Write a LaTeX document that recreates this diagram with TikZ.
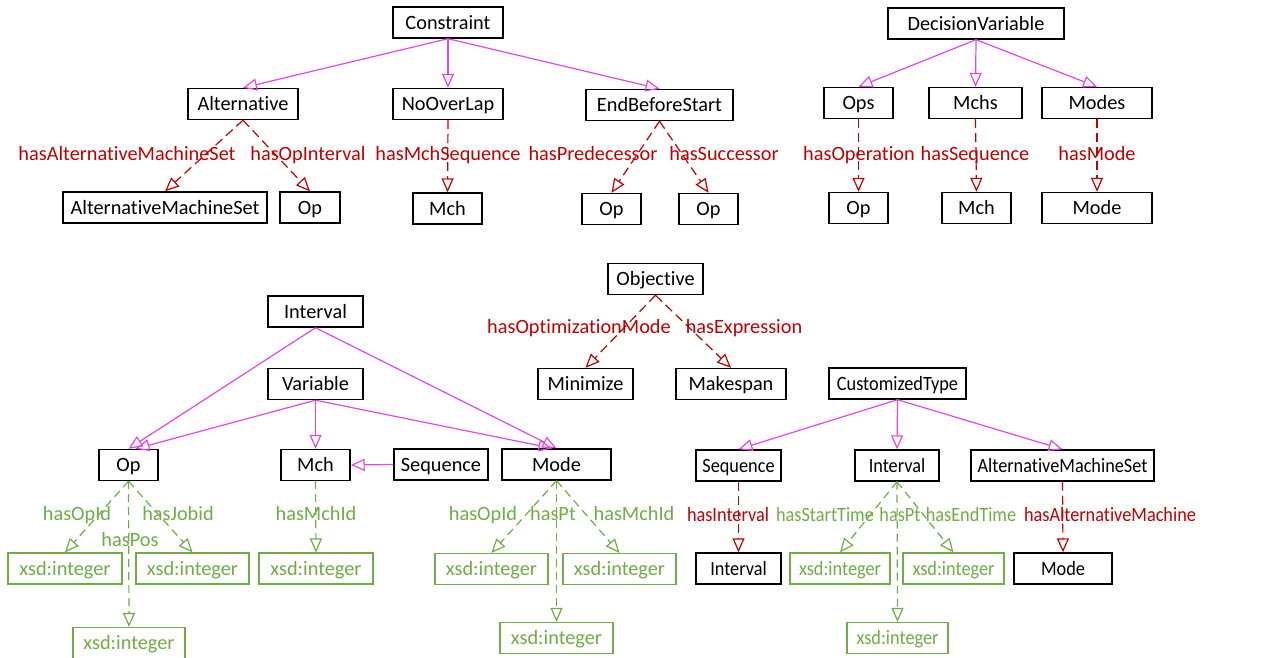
\documentclass[tikz,border=0pt]{standalone}
\usepackage{fontspec}
\setmainfont{Carlito}[Ligatures={NoCommon,NoContextual}]
\newfontfamily\narrowfont{Carlito}[Ligatures={NoCommon,NoContextual}, FakeStretch=0.9]
\usetikzlibrary{arrows.meta}
\definecolor{isa}{RGB}{226,72,226}
\definecolor{objprop}{RGB}{192,0,0}
\definecolor{dataprop}{RGB}{112,173,71}
\newcommand\diagfamily{\rmfamily}
\tikzset{
  txt/.style={font=\diagfamily\fontsize{20.3}{24}\selectfont, text height=17pt, text depth=3.5pt},
  cls/.style={txt, draw=black, line width=1.4pt, minimum height=31pt, inner sep=0pt},
  lit/.style={txt, draw=dataprop, text=dataprop, line width=1.2pt, minimum height=31pt, inner sep=0pt},
  olab/.style={txt, text=objprop, inner sep=0pt},
  dlab/.style={txt, text=dataprop, inner sep=0pt},
  tip/.style={-{Triangle[open, length=14pt, width=12pt]}},
  subcls/.style={tip, draw=isa, line width=1.2pt},
  objedge/.style={tip, draw=objprop, line width=1.2pt, dash pattern=on 9pt off 5pt},
  dataedge/.style={tip, draw=dataprop, line width=1.2pt, dash pattern=on 8pt off 5pt},
}
\begin{document}
\begin{tikzpicture}[x=1pt, y=-1pt]
\useasboundingbox[fill=white] (0,0) rectangle (1266,657);

% ---- Constraint hierarchy
\node[cls, minimum width=110pt] (con) at (448,22.5) {Constraint};
\node[cls, minimum width=110pt] (alt) at (243,104) {Alternative};
\node[cls, minimum width=110pt] (nol) at (448,104) {NoOverLap};
\node[cls, minimum width=147pt] (ebs) at (659.5,105) {EndBeforeStart};
\node[cls, minimum width=204pt] (ams1) at (165,207.5) {AlternativeMachineSet};
\node[cls, minimum width=60pt] (op1) at (310,207.5) {Op};
\node[cls, minimum width=69pt] (mch1) at (447.5,208.5) {Mch};
\node[cls, minimum width=59pt] (op2) at (611.5,209) {Op};
\node[cls, minimum width=59pt] (op3) at (708.5,209) {Op};

\node[olab] (l1) at (127,154) {hasAlternativeMachineSet};
\node[olab] (l2) at (308,154) {hasOpInterval};
\node[olab] (l3) at (448,154) {hasMchSequence};
\node[olab] (l4) at (593,154) {hasPredecessor};
\node[olab] (l5) at (724,154) {hasSuccessor};

\draw[subcls] (con.south) -- (alt.north);
\draw[subcls] (con.south) -- (nol.north);
\draw[subcls] (con.south) -- (ebs.north);
\draw[objedge] (alt.south) -- (ams1.north);
\draw[objedge] (alt.south) -- (op1.north);
\draw[objedge] (nol.south) -- (mch1.north);
\draw[objedge] (ebs.south) -- (op2.north);
\draw[objedge] (ebs.south) -- (op3.north);

% ---- DecisionVariable hierarchy
\node[cls, minimum width=176pt] (dv) at (976,23.5) {DecisionVariable};
\node[cls, minimum width=69pt] (ops) at (858.5,103) {Ops};
\node[cls, minimum width=93pt] (mchs) at (975.5,103) {Mchs};
\node[cls, minimum width=110pt] (modes) at (1097,103) {Modes};
\node[cls, minimum width=59pt] (op4) at (858.5,208) {Op};
\node[cls, minimum width=69pt] (mch2) at (976.5,208) {Mch};
\node[cls, minimum width=110pt] (mode1) at (1097,208) {Mode};

\node[olab] (l6) at (859,154) {hasOperation};
\node[olab] (l7) at (975,154) {hasSequence};
\node[olab] (l8) at (1097,154) {hasMode};

\draw[subcls] (dv.south) -- (ops.north);
\draw[subcls] (dv.south) -- (mchs.north);
\draw[subcls] (dv.south) -- (modes.north);
\draw[objedge] (ops.south) -- (op4.north);
\draw[objedge] (mchs.south) -- (mch2.north);
\draw[objedge] (modes.south) -- (mode1.north);

% ---- Interval / Variable hierarchy
\node[cls, minimum width=95pt] (intv) at (315.5,311.5) {Interval};
\node[cls, minimum width=95pt] (var) at (315.5,384) {Variable};
\node[cls, minimum width=59pt] (op5) at (128.5,465) {Op};
\node[cls, minimum width=69pt] (mch3) at (315.5,465) {Mch};
\node[cls, minimum width=94pt] (seq1) at (441,464.5) {Sequence};
\node[cls, minimum width=109pt] (mode2) at (556.5,464.5) {Mode};

\node[lit, minimum width=114pt] (x1) at (65,568.5) {xsd:integer};
\node[lit, minimum width=113pt] (x2) at (192.5,568.5) {xsd:integer};
\node[lit, minimum width=112pt] (x3) at (129,643) {xsd:integer};
\node[lit, minimum width=114pt] (x4) at (316,568.5) {xsd:integer};
\node[lit, minimum width=113pt] (x5) at (491.5,569) {xsd:integer};
\node[lit, minimum width=113pt] (x6) at (619.5,569) {xsd:integer};
\node[lit, minimum width=113pt] (x7) at (556.5,638) {xsd:integer};

\node[dlab] (g1) at (77,514) {hasOpId};
\node[dlab] (g2) at (178,514) {hasJobid};
\node[dlab] (g3) at (130,540) {hasPos};
\node[dlab] (g4) at (316,514) {hasMchId};
\node[dlab] (g5) at (483,514) {hasOpId};
\node[dlab] (g6) at (553,514) {hasPt};
\node[dlab] (g7) at (634,514) {hasMchId};

\draw[subcls] (intv.south) -- (op5.north);
\draw[subcls] (intv.south) -- (mode2.north);
\draw[subcls] (var.south) -- ([xshift=7pt]op5.north);
\draw[subcls] (var.south) -- (mch3.north);
\draw[subcls] (var.south) -- ([xshift=-4pt]mode2.north);
\draw[subcls] (seq1.west) -- (mch3.east);
\draw[dataedge] (op5.south) -- (x1.north);
\draw[dataedge] (op5.south) -- (x2.north);
\draw[dataedge] (op5.south) -- (x3.north);
\draw[dataedge] (mch3.south) -- (x4.north);
\draw[dataedge] (mode2.south) -- (x5.north);
\draw[dataedge] (mode2.south) -- (x6.north);
\draw[dataedge] (mode2.south) -- (x7.north);

% ---- Objective
\node[cls, minimum width=95pt] (obj) at (655.5,279) {Objective};
\node[cls, minimum width=95pt] (min) at (585.5,384) {Minimize};
\node[cls, minimum width=110pt] (mks) at (731,384) {Makespan};
\node[olab] (l9) at (579,327) {hasOptimizationMode};
\node[olab] (l10) at (744,327) {hasExpression};
\draw[objedge] (obj.south) -- (min.north);
\draw[objedge] (obj.south) -- (mks.north);

% ---- CustomizedType hierarchy (horizontally condensed lettering)
\begin{scope}
\renewcommand\diagfamily{\narrowfont}
\node[cls, minimum width=137pt] (cust) at (897.5,383.5) {CustomizedType};
\node[cls, minimum width=85pt] (seq2) at (738.5,465.5) {Sequence};
\node[cls, minimum width=84pt] (intv2) at (897,465.5) {Interval};
\node[cls, minimum width=183pt] (ams2) at (1062.5,465.5) {AlternativeMachineSet};
\node[cls, minimum width=85pt] (intv3) at (738.5,568.5) {Interval};
\node[lit, minimum width=100pt] (x8) at (840,568.5) {xsd:integer};
\node[lit, minimum width=101pt] (x9) at (953.5,568.5) {xsd:integer};
\node[lit, minimum width=101pt] (x10) at (897.5,638) {xsd:integer};
\node[cls, minimum width=98pt] (mode3) at (1063,568.5) {Mode};

\node[olab] (l11) at (728,515) {hasInterval};
\node[dlab] (g8) at (825,515) {hasStartTime};
\node[dlab] (g9) at (900,515) {hasPt};
\node[dlab] (g10) at (971,515) {hasEndTime};
\node[olab] (l12) at (1110,515) {hasAlternativeMachine};

\draw[subcls] (cust.south) -- (seq2.north);
\draw[subcls] (cust.south) -- (intv2.north);
\draw[subcls] (cust.south) -- (ams2.north);
\draw[objedge] (seq2.south) -- (intv3.north);
\draw[objedge] (ams2.south) -- (mode3.north);
\draw[dataedge] (intv2.south) -- (x8.north);
\draw[dataedge] (intv2.south) -- (x9.north);
\draw[dataedge] (intv2.south) -- (x10.north);
\end{scope}
\end{tikzpicture}
\end{document}
